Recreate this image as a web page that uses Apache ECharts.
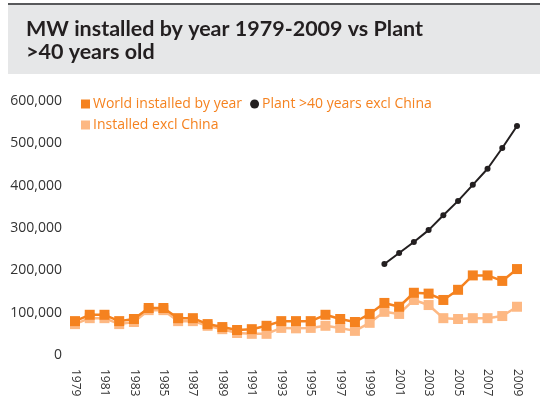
<!DOCTYPE html>
<html>
<head>
<meta charset="utf-8">
<script src="https://cdn.jsdelivr.net/npm/echarts@6/dist/echarts.min.js"></script>
<style>html,body{margin:0;padding:0;background:#fff;}#c{width:540px;height:409px;}</style>
</head>
<body>
<div id="c"></div>
<script>
const years = ['1979','1980','1981','1982','1983','1984','1985','1986','1987','1988','1989','1990','1991','1992','1993','1994','1995','1996','1997','1998','1999','2000','2001','2002','2003','2004','2005','2006','2007','2008','2009'];
const worldInstalled = [80000,95000,95000,80000,85000,111000,111000,87000,87000,73000,66000,59000,61000,69000,80000,80000,80000,95000,85000,78000,97000,123000,114000,147000,145000,130000,154000,188000,188000,175000,203000];
const installedExclChina = [73000,87000,87000,73000,78000,106000,106000,80000,80000,69000,61000,52000,50000,50000,64000,63000,64000,69000,64000,57000,76000,102000,97000,130000,118000,87000,85000,87000,87000,92000,114000];
const plantOver40 = [null,null,null,null,null,null,null,null,null,null,null,null,null,null,null,null,null,null,null,null,null,215000,241000,267000,295000,330000,364000,402000,440000,489000,541000];
const yTicks = [0,100000,200000,300000,400000,500000,600000];

const chart = echarts.init(document.getElementById('c'), null, {renderer:'canvas'});
const font = '"Open Sans", Lato, sans-serif';
const tfont = 'Lato, "Open Sans", sans-serif';
chart.setOption({
  animation:false,
  backgroundColor:'#ffffff',
  graphic:[
    {type:'rect', shape:{x:8,y:4,width:532,height:70}, style:{fill:'#e6e7e8'}, z:-1},
    {type:'rect', shape:{x:8,y:3,width:532,height:2}, style:{fill:'#58595b'}, z:-1}
  ],
  title:{
    text:'MW installed by year 1979-2009 vs Plant\n>40 years old',
    left:21, top:13,
    textStyle:{fontFamily:tfont, fontWeight:'bold', fontSize:21.5, color:'#231f20', lineHeight:23}
  },
  legend:[
    {left:76, top:92, itemGap:8, itemWidth:9, itemHeight:9,
     textStyle:{color:'#f5821f', fontSize:14, fontFamily:font, padding:[0,0,0,-2]},
     data:[{name:'World installed by year', icon:'rect'},{name:'Plant >40 years excl China', icon:'circle', itemStyle:{color:'#231f20'}}]},
    {left:76, top:113, itemWidth:9, itemHeight:9,
     textStyle:{color:'#f5821f', fontSize:14, fontFamily:font, padding:[0,0,0,-2]},
     data:[{name:'Installed excl China', icon:'rect'}]}
  ],
  grid:{left:75, right:23, top:101, bottom:54},
  xAxis:{
    type:'category', data:years, boundaryGap:false,
    axisLine:{show:false}, axisTick:{show:false},
    axisLabel:{rotate:-90, interval:1, margin:14, color:'#333', fontSize:12, fontFamily:font}
  },
  yAxis:{
    type:'value', min:0, max:600000, interval:100000,
    axisLine:{show:false}, axisTick:{show:false}, splitLine:{show:false},
    axisLabel:{margin:13, color:'#333', fontSize:14, fontFamily:font,
      formatter:v=>v.toLocaleString('en-US')}
  },
  series:[
    {name:'Installed excl China', type:'line', data:installedExclChina, symbol:'rect', symbolSize:10, showAllSymbol:true,
     itemStyle:{color:'#fdb883'}, lineStyle:{color:'#fdb883', width:2.5}, z:2},
    {name:'World installed by year', type:'line', data:worldInstalled, symbol:'rect', symbolSize:10, showAllSymbol:true,
     itemStyle:{color:'#f5821f'}, lineStyle:{color:'#f5821f', width:2.5}, z:3},
    {name:'Plant >40 years excl China', type:'line', data:plantOver40, symbol:'circle', symbolSize:6, showAllSymbol:true,
     itemStyle:{color:'#231f20'}, lineStyle:{color:'#231f20', width:2}, z:4}
  ]
});
</script>
</body>
</html>
